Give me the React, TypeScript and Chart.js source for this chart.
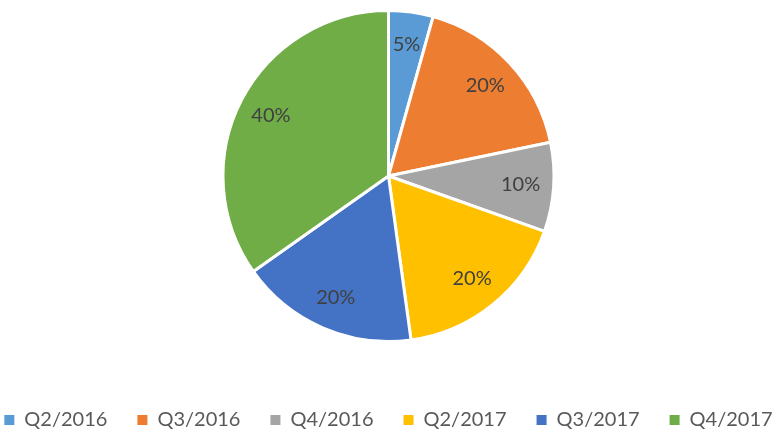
import React, { useEffect, useRef } from 'react';
import { Chart, registerables } from 'chart.js';

Chart.register(...registerables);

const categories = ['Q2/2016', 'Q3/2016', 'Q4/2016', 'Q2/2017', 'Q3/2017', 'Q4/2017'];
const values = [5, 20, 10, 20, 20, 40];
const sliceLabels = ['5%', '20%', '10%', '20%', '20%', '40%'];
const colors = ['#5B9BD5', '#ED7D31', '#A5A5A5', '#FFC000', '#4472C4', '#70AD47'];

const labelPlugin = {
  id: 'sliceLabels',
  afterDatasetsDraw(chart: any) {
    const ctx = chart.ctx;
    const meta = chart.getDatasetMeta(0);
    ctx.save();
    ctx.font = '20px Lato';
    ctx.fillStyle = '#404040';
    ctx.textAlign = 'center';
    ctx.textBaseline = 'middle';
    meta.data.forEach((arc: any, i: number) => {
      const { x, y, startAngle, endAngle, outerRadius } = arc.getProps(
        ['x', 'y', 'startAngle', 'endAngle', 'outerRadius'],
        true
      );
      const mid = (startAngle + endAngle) / 2;
      const r = outerRadius * 0.8;
      ctx.fillText(sliceLabels[i], x + Math.cos(mid) * r, y + Math.sin(mid) * r);
    });
    ctx.restore();
  },
};

export default function App() {
  const canvasRef = useRef<HTMLCanvasElement | null>(null);

  useEffect(() => {
    if (!canvasRef.current) return;
    const baseGen = (Chart as any).overrides.pie.plugins.legend.labels.generateLabels;
    const chart = new Chart(canvasRef.current, {
      type: 'pie',
      data: {
        labels: categories,
        datasets: [
          {
            data: values,
            backgroundColor: colors,
            borderColor: '#ffffff',
            borderWidth: 3,
          },
        ],
      },
      options: {
        animation: false,
        responsive: true,
        maintainAspectRatio: false,
        layout: { padding: { top: 9, bottom: 0, left: -40, right: -40 } },
        plugins: {
          tooltip: { enabled: false },
          legend: {
            position: 'bottom',
            maxHeight: 90,
            title: {
              display: true,
              text: ' ',
              font: { size: 1, lineHeight: 1 },
              padding: { top: 36, bottom: 0 },
            },
            labels: {
              boxWidth: 10,
              boxHeight: 10,
              padding: 30,
              color: '#595959',
              font: { family: 'Lato', size: 20 },
              generateLabels: (c: any) =>
                baseGen(c).map((l: any) => ({ ...l, lineWidth: 0, strokeStyle: 'transparent' })),
            },
          },
        },
      } as any,
      plugins: [labelPlugin],
    });
    return () => chart.destroy();
  }, []);

  return (
    <div style={{ position: 'absolute', left: 0, top: 0, width: 777, height: 433, background: '#fff' }}>
      <canvas ref={canvasRef} />
    </div>
  );
}
